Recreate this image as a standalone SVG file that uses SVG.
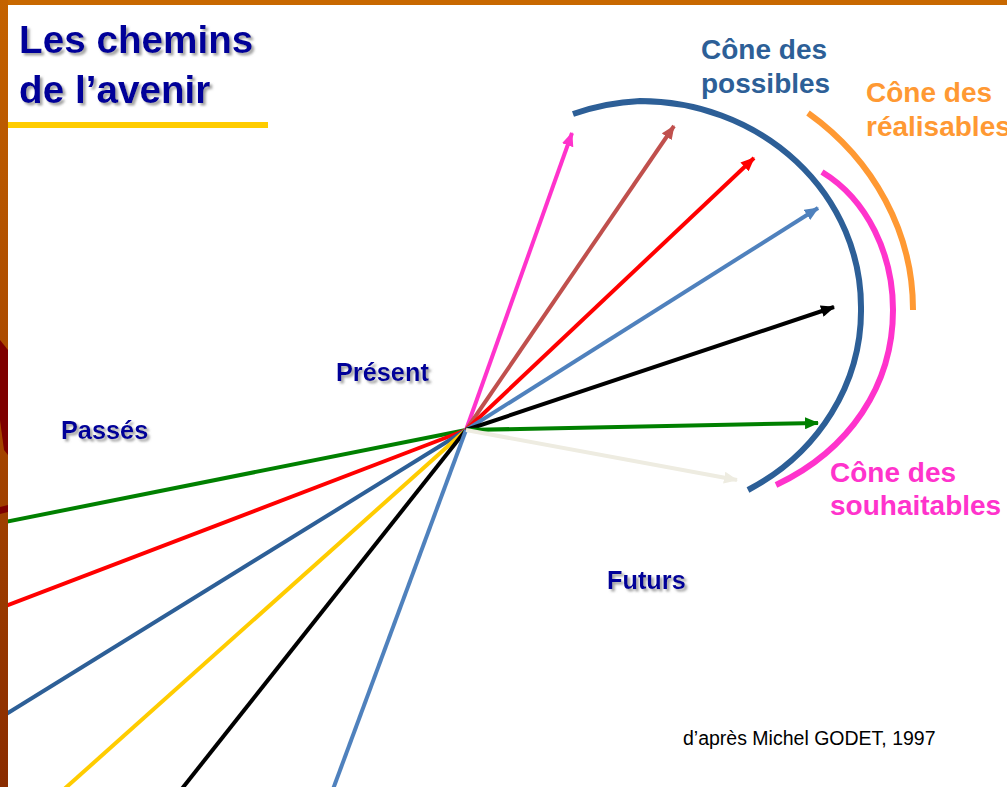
<svg xmlns="http://www.w3.org/2000/svg" width="1007" height="787" viewBox="0 0 1007 787">
<style>
.t{font-family:"Liberation Sans",Arial,sans-serif;font-weight:bold}
.navy{fill:#000099;filter:url(#sh)}
.ln{fill:none;stroke-width:4;stroke-linecap:butt}
.arc{fill:none;stroke-width:6}
</style>
<defs>
<filter id="sh" x="-10%" y="-20%" width="130%" height="150%">
<feDropShadow dx="2.5" dy="2.5" stdDeviation="1.2" flood-color="#8c8c8c" flood-opacity="0.8"/>
</filter>
<linearGradient id="band" x1="0" y1="0" x2="0" y2="1">
<stop offset="0" stop-color="#C46200"/>
<stop offset="0.5" stop-color="#A84800"/>
<stop offset="1" stop-color="#8A2C00"/>
</linearGradient>
<marker id="aPink" viewBox="0 0 14 12" markerWidth="14" markerHeight="12" refX="13" refY="6" orient="auto" markerUnits="userSpaceOnUse"><path d="M0,0 L14,6 L0,12 z" fill="#FF33CC"/></marker>
<marker id="aBrown" viewBox="0 0 14 12" markerWidth="14" markerHeight="12" refX="13" refY="6" orient="auto" markerUnits="userSpaceOnUse"><path d="M0,0 L14,6 L0,12 z" fill="#C0504D"/></marker>
<marker id="aRed" viewBox="0 0 14 12" markerWidth="14" markerHeight="12" refX="13" refY="6" orient="auto" markerUnits="userSpaceOnUse"><path d="M0,0 L14,6 L0,12 z" fill="#FF0000"/></marker>
<marker id="aLBlue" viewBox="0 0 14 12" markerWidth="14" markerHeight="12" refX="13" refY="6" orient="auto" markerUnits="userSpaceOnUse"><path d="M0,0 L14,6 L0,12 z" fill="#4F81BD"/></marker>
<marker id="aBlack" viewBox="0 0 14 12" markerWidth="14" markerHeight="12" refX="13" refY="6" orient="auto" markerUnits="userSpaceOnUse"><path d="M0,0 L14,6 L0,12 z" fill="#000000"/></marker>
<marker id="aGreen" viewBox="0 0 14 12" markerWidth="14" markerHeight="12" refX="13" refY="6" orient="auto" markerUnits="userSpaceOnUse"><path d="M0,0 L14,6 L0,12 z" fill="#008000"/></marker>
<marker id="aGray" viewBox="0 0 14 12" markerWidth="14" markerHeight="12" refX="13" refY="6" orient="auto" markerUnits="userSpaceOnUse"><path d="M0,0 L14,6 L0,12 z" fill="#EEECE1"/></marker>
</defs>
<rect x="0" y="0" width="1007" height="787" fill="#ffffff"/>

<g id="connectors">
<line class="ln" x1="466" y1="430" x2="-10" y2="525" stroke="#008000"/>
<line class="ln" x1="466" y1="430" x2="-10" y2="612" stroke="#FF0000"/>
<line class="ln" x1="466" y1="430" x2="-10" y2="724" stroke="#2D5F97"/>
<line class="ln" x1="466" y1="430" x2="52" y2="800" stroke="#FFCC00"/>
<line class="ln" x1="466" y1="430" x2="173" y2="800" stroke="#000000"/>
<line class="ln" x1="466" y1="430" x2="329" y2="800" stroke="#4F81BD" stroke-width="3"/>

<line class="ln" x1="466" y1="430" x2="572" y2="133" stroke="#FF33CC" marker-end="url(#aPink)"/>
<line class="ln" x1="466" y1="430" x2="674" y2="126" stroke="#C0504D" marker-end="url(#aBrown)"/>
<line class="ln" x1="466" y1="430" x2="754" y2="158" stroke="#FF0000" marker-end="url(#aRed)"/>
<line class="ln" x1="466" y1="430" x2="818" y2="208" stroke="#4F81BD" marker-end="url(#aLBlue)"/>
<line class="ln" x1="466" y1="430" x2="834" y2="307" stroke="#000000" marker-end="url(#aBlack)"/>
<line class="ln" x1="466" y1="430" x2="818" y2="423" stroke="#008000" marker-end="url(#aGreen)"/>
<line class="ln" x1="466" y1="430" x2="737" y2="480" stroke="#EEECE1" marker-end="url(#aGray)"/>
</g>

<g id="cone-possibles">
<path class="arc" d="M573,114 A221 206 0 0 1 640,101 A221 206 0 0 1 861,307 A221 206 0 0 1 748,490" stroke="#2D5F97"/>
<text class="t" x="701" y="59" font-size="28" fill="#2D5F97">Cône des</text>
<text class="t" x="701" y="93" font-size="28" fill="#2D5F97">possibles</text>
</g>

<g id="cone-realisables">
<path class="arc" d="M808,113 A275 250 0 0 1 913,310" stroke="#FF9933"/>
<text class="t" x="866" y="102" font-size="28" fill="#FF9933">Cône des</text>
<text class="t" x="866" y="136" font-size="28" fill="#FF9933">réalisables</text>
</g>

<g id="cone-souhaitables">
<path class="arc" d="M822,172 C868,200 893,255 893,310 C893,385 850,450 776,485" stroke="#FF33CC"/>
<text class="t" x="830" y="482" font-size="28" fill="#FF33CC">Cône des</text>
<text class="t" x="830" y="515" font-size="28" fill="#FF33CC">souhaitables</text>
</g>

<g id="title">
<text class="t navy" x="19" y="53" font-size="38.7">Les chemins</text>
<text class="t navy" x="19" y="103" font-size="38.7">de l’avenir</text>
<rect x="8" y="122" width="260" height="6" fill="#FFCC00"/>
</g>

<g id="present"><text class="t navy" x="336" y="381" font-size="25.3">Présent</text></g>
<g id="passes"><text class="t navy" x="61" y="439" font-size="25.3">Passés</text></g>
<g id="futurs"><text class="t navy" x="607" y="589" font-size="25.3">Futurs</text></g>

<g id="source"><text x="683" y="745" font-family="Liberation Sans, Arial, sans-serif" font-size="19.5" fill="#000">d’après Michel GODET, 1997</text></g>

<g id="frame">
<rect x="0" y="0" width="1007" height="5" fill="#C86800"/>
<rect x="0" y="0" width="8" height="787" fill="url(#band)"/>
<path d="M0,340 L8,350 L8,455 L4,450 L0,420 z" fill="#7E0000"/>
<path d="M0,507 L8,505 L8,512 L0,514 z" fill="#7E0000"/>
</g>
</svg>
